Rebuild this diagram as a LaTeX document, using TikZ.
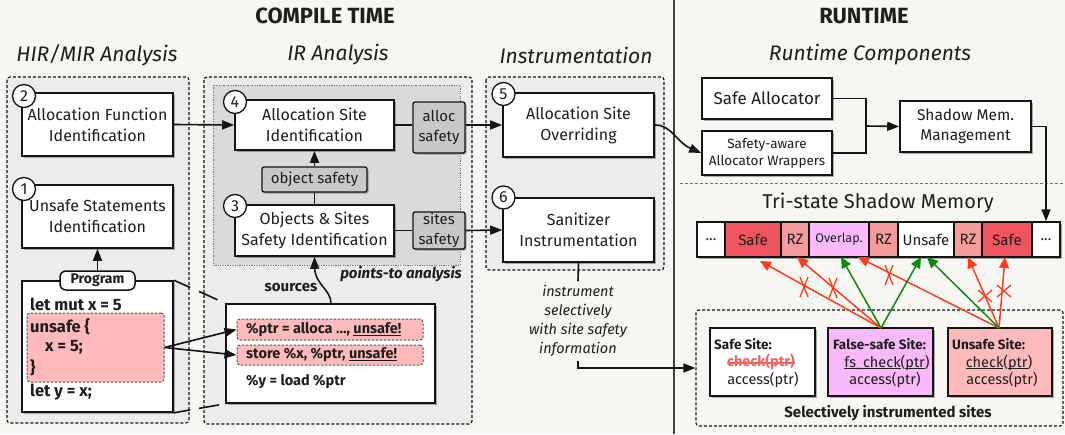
\documentclass[tikz,border=0pt]{standalone}
\usepackage{fontspec}
\setmainfont{Fira Sans}
\usetikzlibrary{arrows.meta,shadows,calc}
\definecolor{bgc}{RGB}{247,246,242}
\definecolor{lgray}{RGB}{236,236,236}
\definecolor{mgray}{RGB}{218,218,218}
\definecolor{tagc}{RGB}{200,200,200}
\definecolor{pinkc}{RGB}{255,187,187}
\definecolor{safered}{RGB}{240,85,95}
\definecolor{rzc}{RGB}{245,155,155}
\definecolor{overc}{RGB}{250,185,250}
\definecolor{redc}{RGB}{255,60,30}
\definecolor{greenc}{RGB}{10,140,10}
\definecolor{strikec}{RGB}{240,100,100}
\definecolor{txt}{RGB}{30,30,30}
\definecolor{linec}{RGB}{20,20,20}
\newcommand{\fsz}[2]{\fontsize{#1}{#2}\selectfont}
\newcommand{\ulx}[1]{\underline{\smash{#1}}}
\begin{document}
\begin{tikzpicture}[x=1pt,y=-1pt,
  every node/.style={text=txt},
  shad/.style={drop shadow={shadow xshift=1.5pt,shadow yshift=-1.5pt,opacity=0.3,fill=black}},
  box/.style={draw=linec, line width=1.6pt, fill=white, align=center, inner sep=1pt, shad, font=\fsz{16}{21}},
  tagbox/.style={draw=linec, line width=1.3pt, fill=tagc, rounded corners=2pt, align=center, inner sep=1pt, shad, font=\fsz{15}{20}},
  num/.style={circle, draw=linec, line width=1.3pt, fill=white, minimum size=23pt, inner sep=0pt, font=\fsz{16}{16}},
  area/.style={draw=linec, dash pattern=on 3pt off 2pt, line width=1.1pt, rounded corners=3pt},
  conn/.style={draw=linec, line width=1.6pt},
  arr/.style={conn, -{Triangle[length=12pt,width=9pt]}},
  pinkhl/.style={draw=linec!70, dash pattern=on 2.5pt off 1.5pt, line width=1pt, fill=pinkc, rounded corners=3pt},
  code/.style={font=\bfseries\fsz{16.5}{20}, anchor=west, inner sep=0pt},
  ircode/.style={font=\bfseries\fsz{14.5}{18}, anchor=west, inner sep=0pt},
  title/.style={font=\bfseries\fsz{22}{24}},
  sub/.style={font=\itshape\fsz{21}{24}},
  cell/.style={draw=linec, line width=1.5pt, minimum height=35pt, inner sep=0pt, font=\fsz{15}{18}},
  redarr/.style={draw=redc, line width=1.5pt, -{Triangle[length=11pt,width=10pt]}},
  greenarr/.style={draw=greenc, line width=1.5pt, -{Triangle[length=11pt,width=10pt]}},
  xmark/.style={draw=redc, line width=1.3pt},
  site/.style={draw=linec, line width=1.3pt, minimum height=68pt, shad},
]
\useasboundingbox (0,0) rectangle (1065,434);
\fill[bgc] (0,0) rectangle (1065,434);

% separators
\draw[line width=1.5pt, draw=black!75] (674,0) -- (674,434);
\draw[black!55, dash pattern=on 3pt off 2pt, line width=1pt] (680,183) -- (1065,183);

% titles
\node[title] (ct) at (325,16) {COMPILE TIME};
\node[title] (rt) at (864,16) {RUNTIME};
\node[sub] (s1) at (97,55) {HIR/MIR Analysis};
\node[sub] (s2) at (338,55) {IR Analysis};
\node[sub] (s3) at (576,55) {Instrumentation};
\node[sub] (s4) at (870,55) {Runtime Components};

% areas
\draw[area, fill=lgray] (7,77) rectangle (189,423);
\draw[area, fill=lgray] (204,77) rectangle (472,424);
\draw[draw=black!55, dash pattern=on 1.2pt off 1.2pt, line width=0.9pt, fill=mgray] (213,85) rectangle (460,265);
\draw[area, fill=lgray] (486,77) rectangle (664,270);
\node[area, fill=bgc, minimum width=367pt, minimum height=116pt, inner sep=0pt] (sites) at (879.5,368) {};

% HIR/MIR
\node[box, minimum width=151pt, minimum height=63pt] (b2) at (97.5,124.5) {Allocation Function\\Identification};
\node[box, minimum width=151pt, minimum height=63pt] (b1) at (97.5,216.5) {Unsafe Statements\\Identification};
\node[num] (n2) at (24,96) {2};
\node[num] (n1) at (24,189) {1};

\node[box, minimum width=151pt, minimum height=131pt] (pb) at (97.5,346.5) {};
\node[pinkhl, minimum width=137pt, minimum height=69pt, inner sep=0pt] (pk) at (95.5,347.5) {};
\node[draw=linec, line width=1.5pt, fill=white, rounded corners=6pt, minimum width=75pt, minimum height=19pt, inner sep=0pt, font=\bfseries\fsz{14}{16}] (pl) at (97.5,280.5) {Program};
\node[code] (c1) at (30,304) {let mut x = 5};
\node[code] (c2) at (30,327) {unsafe \{};
\node[code] (c3) at (45,347) {x = 5;};
\node[code] (c4) at (30,368) {\}};
\node[code] (c5) at (30,392) {let y = x;};
\draw[arr] (pl.north) -- (b1.south);

% IR analysis
\node[box, minimum width=159pt, minimum height=50pt] (b4) at (314.5,125) {Allocation Site\\Identification};
\node[box, minimum width=159pt, minimum height=51pt] (b3) at (314.5,230.5) {Objects \& Sites\\Safety Identification};
\node[num] (n4) at (235,102) {4};
\node[num] (n3) at (235,206) {3};
\node[tagbox, minimum width=52pt, minimum height=51pt] (al) at (439,127.5) {alloc\\safety};
\node[tagbox, minimum width=52pt, minimum height=37pt] (st) at (439,230.5) {sites\\safety};
\node[tagbox, minimum width=105pt, minimum height=25pt] (os) at (314.5,179.5) {object safety};
\draw[conn] (b3.north) -- (os.south);
\draw[arr] (os.north) -- (b4.south);
\draw[conn] (b4.east) -- (b4.east -| al.west);
\draw[conn] (b3.east) -- (st.west);

\node[box, minimum width=209pt, minimum height=99pt] (irc) at (330.5,353.5) {};
\node[pinkhl, minimum width=186pt, minimum height=21pt, inner sep=0pt] (p1) at (330,329.5) {};
\node[pinkhl, minimum width=186pt, minimum height=20pt, inner sep=0pt] (p2) at (330,355) {};
\node[ircode] (i1) at (246,329.5) {\%ptr = alloca ..., \ulx{unsafe!}};
\node[ircode] (i2) at (246,355) {store \%x, \%ptr, \ulx{unsafe!}};
\node[ircode] (i3) at (246,382) {\%y = load \%ptr};
\node[font=\bfseries\itshape\fsz{15}{18}] (pta) at (401,274) {points-to analysis};
\node[font=\bfseries\fsz{15}{18}] (src) at (291,288) {sources};
\draw[arr] ([xshift=0.5pt]irc.north) .. controls (331,290) and (315,284) .. (b3.south);

\draw[arr] (b2.east) -- (b4.west);
\draw[arr] (pk.east) -- (p1.west);
\draw[arr] (pk.east) -- (p2.west);

% zoom lines
\draw[conn] (pb.north east) -- ($(pb.north east)!0.32!(irc.north west)$);
\draw[conn] ($(pb.north east)!0.49!(irc.north west)$) -- ($(pb.north east)!0.85!(irc.north west)$);
\draw[conn] (pb.south east) -- ($(pb.south east)!0.32!(irc.south west)$);
\draw[conn] ($(pb.south east)!0.49!(irc.south west)$) -- ($(pb.south east)!0.88!(irc.south west)$);

% Instrumentation
\node[box, minimum width=151pt, minimum height=64pt] (b5) at (578.5,125) {Allocation Site\\Overriding};
\node[box, minimum width=151pt, minimum height=64pt] (b6) at (578.5,230) {Sanitizer\\Instrumentation};
\node[num] (n5) at (503.5,94) {5};
\node[num] (n6) at (503.5,197.5) {6};
\draw[arr] (al.east |- b5.west) -- (b5.west);
\draw[arr] (st.east) -- (b6.west);
\node[font=\itshape\fsz{14.5}{19}, align=center, inner sep=4pt] (it) at (578,321) {instrument\\selectively\\with site safety\\information};
\draw[conn] (b6.south) -- (it.north);
\draw[arr] (it.south) |- (sites.west);

% Runtime components
\node[box, minimum width=130pt, minimum height=41pt, font=\fsz{17}{21}] (sa) at (767,98.5) {Safe Allocator};
\node[box, minimum width=130pt, minimum height=44pt, font=\fsz{13.5}{17}] (wr) at (767,153) {Safety-aware\\Allocator Wrappers};
\node[box, minimum width=131pt, minimum height=51pt, font=\fsz{15.5}{20}] (sh) at (965.5,126.5) {Shadow Mem.\\Management};
\coordinate (j) at (866,126);
\draw[conn] (sa.east) -| (j);
\draw[conn] (wr.east) -| (j);
\draw[arr] (j) -- (sh.west);
\draw[arr] (b5.east) .. controls (672,125) and (676,142) .. (wr.west);

% shadow memory
\node[font=\fsz{20}{22}] (tsm) at (878,203) {Tri-state Shadow Memory};
\fill[black, opacity=0.3] (698.5,223.5) rectangle (1061.5,258.5);
\node[cell, fill=white, minimum width=28pt] (m1) at (711,239.5) {...};
\node[cell, fill=safered, minimum width=56pt] (m2) at (753,239.5) {Safe};
\node[cell, fill=rzc, minimum width=28pt] (m3) at (795,239.5) {RZ};
\node[cell, fill=overc, minimum width=60pt, font=\fsz{12.5}{15}] (m4) at (839,239.5) {Overlap.};
\node[cell, fill=rzc, minimum width=29pt] (m5) at (883.5,239.5) {RZ};
\node[cell, fill=white, minimum width=56pt] (m6) at (926,239.5) {Unsafe};
\node[cell, fill=rzc, minimum width=28pt] (m7) at (968,239.5) {RZ};
\node[cell, fill=safered, minimum width=50pt] (m8) at (1007,239.5) {Safe};
\node[cell, fill=white, minimum width=28pt] (m9) at (1046,239.5) {...};
\draw[arr] (sh.east) -| (m9.north);

% sites
\node[site, fill=white, minimum width=105pt] (ss) at (762.5,362) {};
\node[site, fill=overc, minimum width=105pt] (fs) at (880.5,362) {};
\node[site, fill=pinkc, minimum width=104pt] (us) at (1000,362) {};
\node[font=\bfseries\fsz{13.5}{16}, anchor=west, inner sep=0pt] (sst) at (714,344) {Safe Site:};
\node[font=\bfseries\fsz{14.5}{16}, text=strikec, inner sep=0pt] (chk) at (761,362) {check(ptr)};
\draw[strikec, line width=1.5pt] ([yshift=-1pt]chk.west) -- ([yshift=-1pt]chk.east);
\node[font=\fsz{14.5}{16}, inner sep=0pt] (sacc) at (763,380) {access(ptr)};
\node[font=\bfseries\fsz{13.5}{16}, anchor=west, inner sep=0pt] (fst) at (833,344) {False-safe Site:};
\node[font=\fsz{14.5}{16}, inner sep=0pt] (fchk) at (887,362) {\ulx{fs\_check}(\ulx{ptr})};
\node[font=\fsz{14.5}{16}, inner sep=0pt] (facc) at (885,380) {access(ptr)};
\node[font=\bfseries\fsz{13.5}{16}, anchor=west, inner sep=0pt] (ust) at (952,344) {Unsafe Site:};
\node[font=\fsz{14.5}{16}, inner sep=0pt] (uchk) at (999,362) {\ulx{check}(\ulx{ptr})};
\node[font=\fsz{14.5}{16}, inner sep=0pt] (uacc) at (1002,380) {access(ptr)};
\node[font=\bfseries\fsz{15}{18}] (sel) at (888,413) {Selectively instrumented sites};

% memory arrows
\coordinate (fsp) at (881,328);
\coordinate (usp) at (999,328);
\coordinate (t1) at (760,261);
\coordinate (t2) at (797,257);
\coordinate (t3) at (841,257);
\coordinate (t4) at (921,257);
\coordinate (t5) at (858,257);
\coordinate (t6) at (927,257);
\coordinate (t7) at (968,257);
\coordinate (t8) at (1005,257);
\draw[redarr] (fsp) -- (t1);
\draw[redarr] (fsp) -- (t2);
\draw[redarr] (usp) -- (t5);
\draw[redarr] (usp) -- (t7);
\draw[redarr] (usp) -- (t8);
\draw[greenarr] (fsp) -- (t3);
\draw[greenarr] (fsp) -- (t4);
\draw[greenarr] (usp) -- (t6);
% crosses
\foreach \p in {(804,287),(833,288),(889,275)}{
  \draw[xmark] \p ++(-4,-10) -- ++(8,20);
  \draw[xmark] \p ++(4,-10) -- ++(-8,20);
}
\foreach \p in {(985,296),(1004,291)}{
  \draw[xmark] \p ++(-7,-6) -- ++(14,12);
  \draw[xmark] \p ++(7,-6) -- ++(-14,12);
}
\end{tikzpicture}
\end{document}
